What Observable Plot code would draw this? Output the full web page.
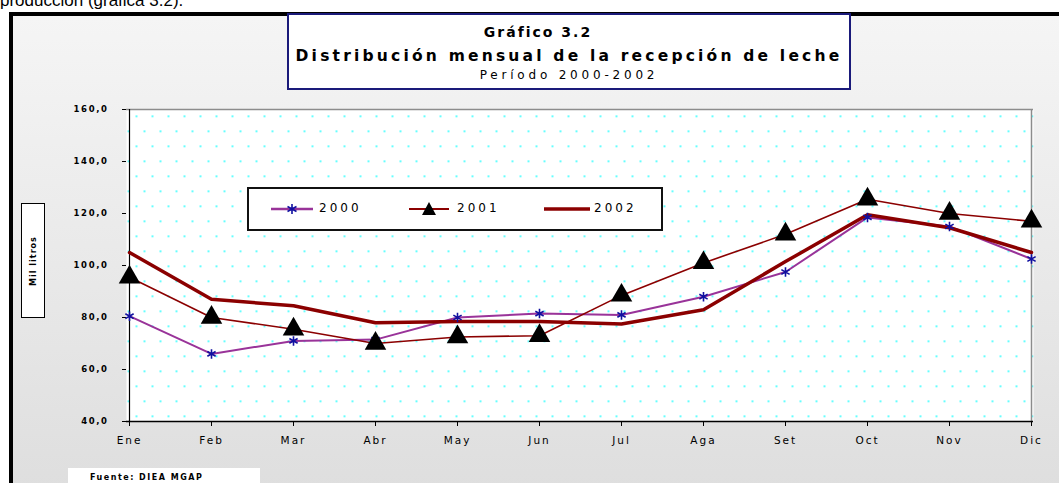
<!DOCTYPE html>
<html><head><meta charset="utf-8">
<script src="https://cdn.jsdelivr.net/npm/d3@7"></script>
<script src="https://cdn.jsdelivr.net/npm/@observablehq/plot@0.6"></script>
<style>
body{margin:0;width:1059px;height:483px;overflow:hidden;position:relative;background:#fff;font-family:"DejaVu Sans",sans-serif;}
#pre{position:absolute;left:0;top:-9px;font:17px "Liberation Sans",Arial,sans-serif;color:#000;white-space:nowrap;}
#frame{position:absolute;left:9px;top:12px;width:1100px;height:520px;border-left:4px solid #000;border-top:4px solid #000;background:linear-gradient(#f5f5f5,#dcdcdc);}
#chart{position:absolute;left:0;top:0;}
#chart svg{background:transparent;}
#title{position:absolute;left:287px;top:13px;width:560px;height:73px;border:2px solid #1a1a7a;background:#fff;text-align:center;color:#000;font-weight:bold;}
#title .l1{position:absolute;left:0;right:62px;top:9px;font-size:14px;letter-spacing:2px;}
#title .l2{position:absolute;left:0;right:0;top:32px;font-size:15.5px;letter-spacing:3.2px;}
#title .l3{position:absolute;left:0;right:0;top:53px;font-size:12px;letter-spacing:3.8px;font-weight:normal;}
#legend{position:absolute;left:247px;top:187px;width:412px;height:40px;border:2px solid #111;background:#fff;}
.li{position:absolute;top:11px;height:18px;font-size:12px;letter-spacing:3px;}
.li svg{position:absolute;left:0;top:0;}
.li span{position:absolute;top:1px;}
#ylab{position:absolute;left:21px;top:203px;width:22px;height:113px;border:1.5px solid #000;background:#fff;}
#ylab span{position:absolute;left:50%;top:50%;transform:translate(-50%,-50%) rotate(-90deg);font-size:8px;font-weight:bold;white-space:nowrap;letter-spacing:1px;}
#src{position:absolute;left:68px;top:468px;width:192px;height:20px;background:#fff;}
#src span{position:absolute;left:22px;top:5px;font-size:8px;font-weight:bold;letter-spacing:1.5px;}
#chart g[aria-label="x-axis tick label"] text{letter-spacing:2px;}
#chart g[aria-label="y-axis tick label"] text{letter-spacing:1.6px;}
</style>
</head><body>
<div id="pre">producción (gráfica 3.2).</div>
<div id="frame"></div>
<div id="chart"></div>
<div id="title"><div class="l1">Gráfico 3.2</div><div class="l2">Distribución mensual de la recepción de leche</div><div class="l3">Período 2000-2002</div></div>
<div id="legend">
  <div class="li" style="left:22px;width:110px"><svg width="44" height="18"><line x1="0" y1="9" x2="42" y2="9" stroke="#993399" stroke-width="2.5"/><path d="M21,4V14M16.5,6.5L25.5,11.5M16.5,11.5L25.5,6.5" stroke="#1010a0" stroke-width="1.6"/></svg><span style="left:48px">2000</span></div>
  <div class="li" style="left:160px;width:110px"><svg width="44" height="18"><line x1="0" y1="9" x2="40" y2="9" stroke="#8b0000" stroke-width="2"/><path d="M20,2L27,15H13Z" fill="#000"/></svg><span style="left:48px">2001</span></div>
  <div class="li" style="left:295px;width:110px"><svg width="48" height="18"><line x1="0" y1="9" x2="46" y2="9" stroke="#8b0000" stroke-width="3.5"/></svg><span style="left:50px">2002</span></div>
</div>
<div id="ylab"><span>Mil litros</span></div>
<div id="src"><span>Fuente: DIEA MGAP</span></div>
<script>
const months = ["Ene","Feb","Mar","Abr","May","Jun","Jul","Aga","Set","Oct","Nov","Dic"];
const y2000 = [80.5, 66, 71, 71.5, 80, 81.5, 81, 88, 97.5, 118.5, 115, 102.5];
const y2001 = [95.5, 80, 75.5, 70, 72.5, 73, 88.5, 101, 112, 125.5, 120, 117];
const y2002 = [105, 87, 84.5, 78, 78.5, 78.5, 77.5, 83, 101.5, 119.5, 114.5, 105];
const yTicks = [40, 60, 80, 100, 120, 140, 160];

const rows = (vals) => months.map((m, i) => ({month: m, value: vals[i]}));
const d0 = rows(y2000), d1 = rows(y2001), d2 = rows(y2002);

const svg = Plot.plot({
  width: 1059, height: 483,
  marginLeft: 126, marginRight: 26, marginTop: 109, marginBottom: 62,
  style: {background: "transparent", fontFamily: "'DejaVu Sans', sans-serif", color: "#000"},
  x: {type: "point", domain: months, padding: 0, label: null},
  y: {domain: [40, 160], label: null},
  marks: [
    Plot.frame({fill: "url(#dots)", stroke: "none"}),
    Plot.ruleY([160], {stroke: "#8c8c8c", strokeWidth: 1.5}),
    Plot.ruleX([months[months.length - 1]], {stroke: "#8c8c8c", strokeWidth: 1.5}),
    Plot.ruleX([months[0]], {stroke: "#000", strokeWidth: 1.2}),
    Plot.ruleY([40], {stroke: "#000", strokeWidth: 1.5}),
    Plot.axisY({ticks: yTicks, tickSize: 4, tickPadding: 14, label: null, tickFormat: d => d.toFixed(1).replace(".", ","), fontSize: 8.5, fontWeight: "bold", stroke: "#000"}),
    Plot.axisX({tickSize: 5, tickPadding: 10, label: null, fontSize: 10.5}),
    Plot.line(d0, {x: "month", y: "value", stroke: "#993399", strokeWidth: 2}),
    Plot.line(d1, {x: "month", y: "value", stroke: "#8b0000", strokeWidth: 1.6}),
    Plot.line(d2, {x: "month", y: "value", stroke: "#8b0000", strokeWidth: 3.5}),
    Plot.dot(d0, {x: "month", y: "value", symbol: "asterisk", r: 4.5, stroke: "#1010a0", strokeWidth: 1.6}),
    Plot.dot(d1, {x: "month", y: "value", symbol: "triangle", r: 8, fill: "#000", stroke: "none"})
  ]
});

const defs = d3.select(svg).insert("defs", ":first-child");
const p = defs.append("pattern").attr("id", "dots").attr("patternUnits", "userSpaceOnUse")
  .attr("x", 126).attr("y", 109).attr("width", 16).attr("height", 30);
p.append("rect").attr("width", 16).attr("height", 30).attr("fill", "#fff");
p.append("rect").attr("x", 9).attr("y", 6).attr("width", 2).attr("height", 1.5).attr("fill", "#33ffff");
p.append("rect").attr("x", 1).attr("y", 21).attr("width", 2).attr("height", 1.5).attr("fill", "#33ffff");

document.getElementById("chart").appendChild(svg);
</script>
</body></html>
